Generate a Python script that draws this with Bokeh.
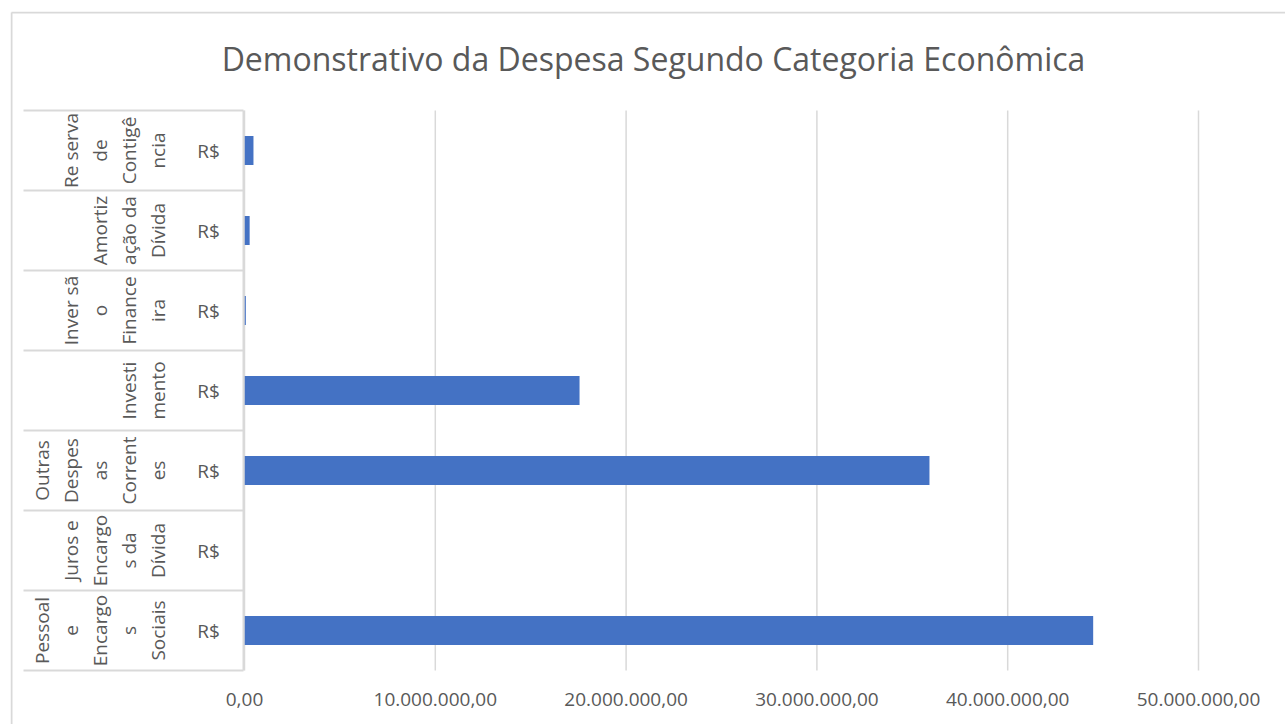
import math
from bokeh.plotting import figure
from bokeh.models import (Range1d, FixedTicker, CustomJSTickFormatter, ColumnDataSource)
from bokeh.core.properties import value
from bokeh.embed import file_html
from bokeh.resources import INLINE

# ---- data ----
title_text = "Demonstrativo da Despesa Segundo Categoria Econômica"
categories = [
    "Pessoal e Encargos Sociais",
    "Juros e Encargos da Dívida",
    "Outras Despesas Correntes",
    "Investimento",
    "Inversão Financeira",
    "Amortização da Dívida",
    "Reserva de Contigência",
]
wrapped_labels = [
    "Pessoal\ne\nEncargo\ns\nSociais",
    "Juros e\nEncargo\ns da\nDívida",
    "Outras\nDespes\nas\nCorrent\nes",
    "Investi\nmento",
    "Inver sã\no\nFinance\nira",
    "Amortiz\nação da\nDívida",
    "Re serva\nde\nContigê\nncia",
]
currency_labels = ["R$"] * 7
values = [44_480_000, 0, 35_900_000, 17_560_000, 70_000, 270_000, 470_000]
x_ticks = [0, 10_000_000, 20_000_000, 30_000_000, 40_000_000, 50_000_000]

# ---- layout constants (pixels) ----
W, H = 1285, 724
FRAME_L, FRAME_T = 10, 11
TABLE_T, TABLE_B = 110, 670
ROW_PX = 80
ZERO_PX = 244
PX_PER_UNIT = 190.8 / 10_000_000
x_start = -(ZERO_PX - FRAME_L) / PX_PER_UNIT
x_end = x_start + (W - FRAME_L) / PX_PER_UNIT
n = len(categories)
y_start = -0.5 - (H - TABLE_B) / ROW_PX
y_end = (n - 0.5) + (TABLE_T - FRAME_T) / ROW_PX

GRID = "#d9d9d9"
TEXT = "#595959"
FONT = "Open Sans"

p = figure(width=W, height=H, output_backend="svg", toolbar_location=None,
           x_range=Range1d(x_start, x_end), y_range=Range1d(y_start, y_end),
           y_axis_location=None,
           min_border_left=FRAME_L, min_border_right=0,
           min_border_top=FRAME_T, min_border_bottom=0)
p.outline_line_color = None
p.extra_x_ranges = {"px": Range1d(FRAME_L, W)}
p.extra_y_ranges = {"py": Range1d(H, FRAME_T)}
p.xgrid.visible = False
p.ygrid.visible = False

ypos = list(range(n))

# x axis (drawn at the bottom of the category table)
ax = p.xaxis[0]
ax.fixed_location = -0.5
ax.ticker = FixedTicker(ticks=x_ticks)
ax.formatter = CustomJSTickFormatter(code="""
    const parts = tick.toFixed(2).split('.');
    parts[0] = parts[0].replace(/\\B(?=(\\d{3})+(?!\\d))/g, '.');
    return parts.join(',');
""")
ax.axis_line_color = None
ax.major_tick_line_color = None
ax.minor_tick_line_color = None
ax.major_tick_out = 0
ax.major_tick_in = 0
ax.major_label_standoff = 22
ax.major_label_text_font = FONT
ax.major_label_text_font_size = "19px"
ax.major_label_text_color = TEXT

# vertical gridlines limited to the plot area
p.segment(x0=x_ticks, x1=x_ticks, y0=[-0.5] * len(x_ticks), y1=[n - 0.5] * len(x_ticks),
          line_color=GRID, line_width=1.5)

# bars
src = ColumnDataSource(dict(y=ypos, val=values, lbl=wrapped_labels, cur=currency_labels))
p.hbar(y="y", left=0, right="val", height=0.36, source=src,
       fill_color="#4472C4", line_color=None)

# category table lines
bounds = [i - 0.5 for i in range(n + 1)]
p.segment(x0=23, x1=243, y0=bounds, y1=bounds, x_range_name="px",
          line_color=GRID, line_width=2)
p.segment(x0=[243], x1=[243], y0=[-0.5], y1=[n - 0.5], x_range_name="px",
          line_color=GRID, line_width=2)

# category labels
p.text(x=171, y="y", text="lbl", source=src, x_range_name="px",
       angle=math.pi / 2, text_align="center", text_baseline="bottom",
       text_font=value(FONT), text_font_size="19px", text_color=TEXT,
       text_line_height=1.12)
p.text(x=208, y="y", text="cur", source=src, x_range_name="px",
       text_align="center", text_baseline="middle",
       text_font=value(FONT), text_font_size="19px", text_color=TEXT)

# title
p.text(x=[653], y=[58], text=[title_text], x_range_name="px", y_range_name="py",
       text_align="center", text_baseline="middle",
       text_font=value(FONT), text_font_size="32px", text_color=TEXT)

# chart border (top and left edges visible in the window)
p.segment(x0=[11, 11], x1=[W, 11], y0=[12, 12], y1=[12, H], x_range_name="px",
          y_range_name="py", line_color=GRID, line_width=2)

open("out.html", "w").write(file_html(p, INLINE))
